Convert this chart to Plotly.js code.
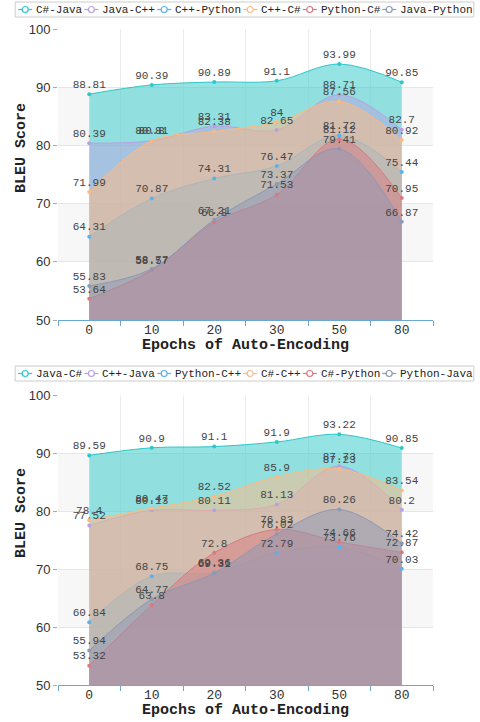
<!DOCTYPE html>
<html>
<head>
<meta charset="utf-8">
<script src="https://cdn.plot.ly/plotly-3.0.1.min.js"></script>
<style>html,body{margin:0;padding:0;background:#fff}#chart{width:480px;height:722px}</style>
</head>
<body>
<div id="chart"></div>
<script>
// ---- data ----
const epochs = ['0', '10', '20', '30', '50', '80'];

const topNames = ['C#-Java', 'Java-C++', 'C++-Python', 'C++-C#', 'Python-C#', 'Java-Python'];
const topCsJava      = [88.81, 90.39, 90.89, 91.1, 93.99, 90.85];
const topJavaCpp     = [80.39, 80.81, 83.31, 82.65, 88.71, 82.7];
const topCppPython   = [64.31, 70.87, 74.31, 76.47, 81.72, 75.44];
const topCppCs       = [71.99, 80.8, 82.38, 84, 87.56, 80.92];
const topPythonCs    = [53.64, 58.57, 66.8, 71.53, 81.12, 70.95];
const topJavaPython  = [55.83, 58.77, 67.21, 73.37, 79.41, 66.87];

const botNames = ['Java-C#', 'C++-Java', 'Python-C++', 'C#-C++', 'C#-Python', 'Python-Java'];
const botJavaCs      = [89.59, 90.9, 91.1, 91.9, 93.22, 90.85];
const botCppJava     = [77.52, 80.13, 80.11, 81.13, 87.73, 80.2];
const botPythonCpp   = [60.84, 68.75, 69.36, 72.79, 73.76, 70.03];
const botCsCpp       = [78.4, 80.47, 82.52, 85.9, 87.23, 83.54];
const botCsPython    = [53.32, 63.8, 72.8, 76.83, 74.66, 72.87];
const botPythonJava  = [55.94, 64.77, 69.31, 76.02, 80.26, 74.42];

const yTicks = [50, 60, 70, 80, 90, 100];
const xTitle = 'Epochs of Auto-Encoding';
const yTitle = 'BLEU Score';

// ---- style ----
const colors = ['#2ec7c9', '#b6a2de', '#5ab1ef', '#ffb980', '#d87a80', '#8d98b3'];
const W = 480, H = 722;
const px = v => v / W;
const py = v => 1 - v / H;
function rgba(hex, a) {
  const n = parseInt(hex.slice(1), 16);
  return 'rgba(' + (n >> 16 & 255) + ',' + (n >> 8 & 255) + ',' + (n & 255) + ',' + a + ')';
}
const MONO = 'Liberation Mono, Courier New, monospace';

const traces = [];
function addChart(series, xa, ya) {
  series.forEach((vals, i) => {
    traces.push({
      type: 'scatter', x: epochs, y: vals, xaxis: xa, yaxis: ya,
      mode: 'lines', line: {shape: 'spline', smoothing: 1, color: colors[i], width: 1},
      fill: 'tozeroy', fillcolor: rgba(colors[i], 0.5),
      hoverinfo: 'skip', showlegend: false
    });
  });
  series.forEach((vals, i) => {
    traces.push({
      type: 'scatter', x: epochs, y: vals, xaxis: xa, yaxis: ya,
      mode: 'markers+text', text: vals.map(v => String(v)), textposition: 'top center',
      textfont: {family: MONO, size: 11, color: '#444'},
      marker: {size: 4, color: colors[i]}, cliponaxis: false,
      hoverinfo: 'skip', showlegend: false
    });
  });
}
addChart([topCsJava, topJavaCpp, topCppPython, topCppCs, topPythonCs, topJavaPython], 'x', 'y');
addChart([botJavaCs, botCppJava, botPythonCpp, botCsCpp, botCsPython, botPythonJava], 'x2', 'y2');

const shapes = [], annotations = [];

function bands(yref, xref) {
  [[60, 70], [80, 90]].forEach(b => shapes.push({
    type: 'rect', xref: xref + ' domain', yref: yref, x0: 0, x1: 1, y0: b[0], y1: b[1],
    fillcolor: '#f7f7f7', line: {width: 0}, layer: 'below'
  }));
}
bands('y', 'x'); bands('y2', 'x2');

function legend(names, cy) {
  const cw = 6.6, icon = 14, tgap = 2, igap = 4;
  let total = 0;
  names.forEach((n, i) => { total += icon + tgap + n.length * cw + (i < names.length - 1 ? igap : 0); });
  let x = 244.5 - total / 2;
  shapes.push({type: 'rect', xref: 'paper', yref: 'paper', x0: px(x - 3), x1: px(x + total + 3),
    y0: py(cy - 7.5), y1: py(cy + 7.5), line: {color: '#cccccc', width: 1}, fillcolor: 'rgba(0,0,0,0)'});
  names.forEach((n, i) => {
    shapes.push({type: 'line', xref: 'paper', yref: 'paper', x0: px(x), x1: px(x + icon),
      y0: py(cy), y1: py(cy), line: {color: colors[i], width: 1.2}});
    shapes.push({type: 'circle', xref: 'paper', yref: 'paper', x0: px(x + icon / 2 - 3), x1: px(x + icon / 2 + 3),
      y0: py(cy + 3), y1: py(cy - 3), line: {color: colors[i], width: 1.2}, fillcolor: '#ffffff'});
    annotations.push({xref: 'paper', yref: 'paper', x: px(x + icon + tgap), y: py(cy), xanchor: 'left', yanchor: 'middle',
      text: n, showarrow: false, font: {family: MONO, size: 11, color: '#222'}});
    x += icon + tgap + n.length * cw + igap;
  });
}
legend(topNames, 9.5);
legend(botNames, 373.5);

function titles(xy, yy) {
  annotations.push({xref: 'paper', yref: 'paper', x: px(245.5), y: py(xy), xanchor: 'center', yanchor: 'middle',
    text: '<b>' + xTitle + '</b>', showarrow: false, font: {family: MONO, size: 15, color: '#222'}});
  annotations.push({xref: 'paper', yref: 'paper', x: px(21), y: py(yy), xanchor: 'center', yanchor: 'middle',
    textangle: -90, text: '<b>' + yTitle + '</b>', showarrow: false, font: {family: MONO, size: 15, color: '#222'}});
}
titles(345, 148);
titles(710, 513);

function xaxis(anchor) {
  return {
    domain: [px(58), px(433)], anchor: anchor, type: 'category', range: [-0.5, 5.5],
    tickson: 'boundaries', ticks: 'outside', ticklen: 5, tickcolor: '#6aa7d6',
    ticklabelstandoff: -3,
    showline: true, linecolor: '#6aa7d6', linewidth: 1,
    showgrid: true, gridcolor: '#ececec', gridwidth: 1, zeroline: false,
    tickfont: {family: MONO, size: 13, color: '#333'}, fixedrange: true
  };
}
function yaxis(anchor, top, bottom) {
  return {
    domain: [py(bottom), py(top)], anchor: anchor, range: [50, 100], tickvals: yTicks,
    ticks: 'outside', ticklen: 4, tickcolor: '#aaaaaa', showline: false,
    showgrid: true, gridcolor: '#e6e6e6', gridwidth: 1, zeroline: false,
    tickfont: {family: 'Liberation Sans, Arial, sans-serif', size: 13, color: '#333'}, fixedrange: true
  };
}

const layout = {
  width: W, height: H, margin: {l: 0, r: 0, t: 0, b: 0},
  paper_bgcolor: '#ffffff', plot_bgcolor: 'rgba(0,0,0,0)', showlegend: false,
  xaxis: xaxis('y'), yaxis: yaxis('x', 29, 320),
  xaxis2: xaxis('y2'), yaxis2: yaxis('x2', 395, 685),
  shapes: shapes, annotations: annotations
};

Plotly.newPlot('chart', traces, layout, {displayModeBar: false, staticPlot: true});
</script>
</body>
</html>
